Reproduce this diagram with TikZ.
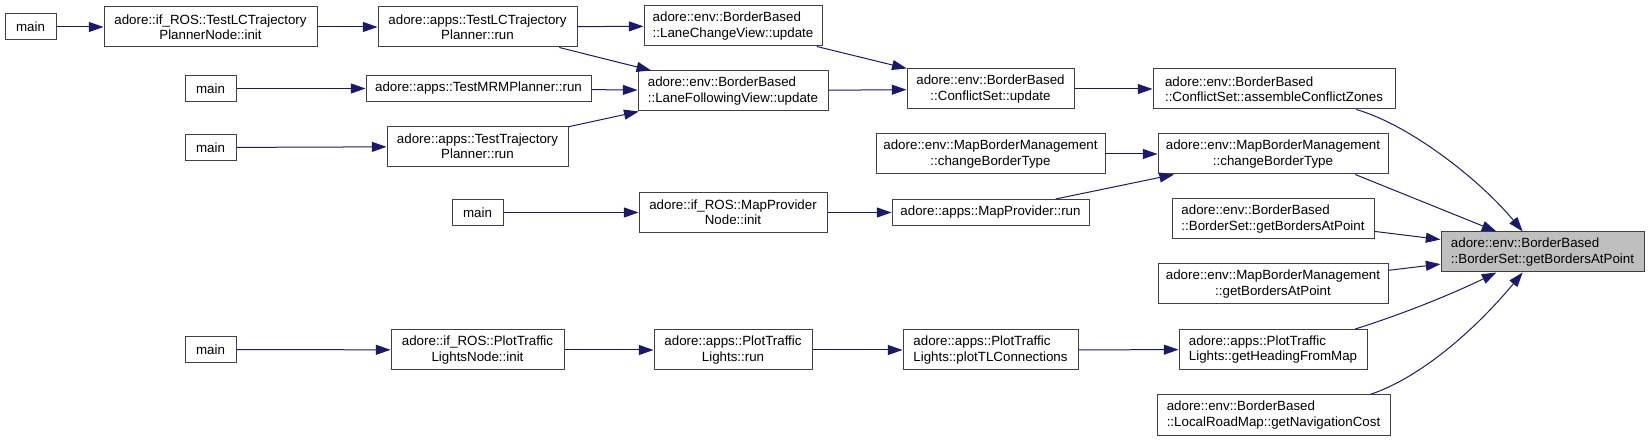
\documentclass[tikz,border=0pt]{standalone}
\usepackage{fontspec}
\setmainfont{Liberation Sans}
\usepackage{tikz}
\usetikzlibrary{arrows.meta}
\definecolor{callblue}{RGB}{25, 25, 112}
\definecolor{boxgrey}{RGB}{64, 64, 64}
\definecolor{focusgrey}{RGB}{191, 191, 191}

\begin{document}
\begin{tikzpicture}[x=0.75pt, y=-0.75pt,
    fn/.style={draw=boxgrey, fill=white, line width=0.75pt, inner sep=0pt,
        minimum height=30pt, align=center, font=\fontsize{10}{11.5}\selectfont},
    fnl/.style={fn, align=left},
    one/.style={minimum height=19.5pt},
    bw/.style={minimum width=#1*0.75pt},
    call/.style={draw=callblue, line width=0.75pt, -{Triangle[length=11pt, width=7.5pt]}}]
    \useasboundingbox (0,0) rectangle (1649,441);

    % Callers (main)
    \node[fn, one, bw=51] (main1) at (30.5,27) {main};
    \node[fn, one, bw=51] (main2) at (210.5,88.5) {main};
    \node[fn, one, bw=51] (main3) at (210.5,147.5) {main};
    \node[fn, one, bw=51] (main4) at (477.5,212.5) {main};
    \node[fn, one, bw=51] (main5) at (210.5,349.5) {main};

    % Test planners
    \node[fn, bw=213] (lcinit) at (210.5,27) {adore::if\_ROS::TestLCTrajectory\\PlannerNode::init};
    \node[fn, bw=199] (lcrun) at (477.5,27) {adore::apps::TestLCTrajectory\\Planner::run};
    \node[fn, one, bw=225] (mrmrun) at (478.5,88.5) {adore::apps::TestMRMPlanner::run};
    \node[fn, bw=181] (ttrun) at (477.5,146.5) {adore::apps::TestTrajectory\\Planner::run};

    % Views and conflict set
    \node[fnl, bw=178] (lcview) at (733,26) {adore::env::BorderBased\\::LaneChangeView::update};
    \node[fnl, bw=190] (lfview) at (733,91) {adore::env::BorderBased\\::LaneFollowingView::update};
    \node[fn, bw=167] (csupdate) at (990.5,89) {adore::env::BorderBased\\::ConflictSet::update};
    \node[fnl, bw=242] (assemble) at (1274,89) {adore::env::BorderBased\\::ConflictSet::assembleConflictZones};

    % Map provider
    \node[fn, bw=188] (mpinit) at (733,212.5) {adore::if\_ROS::MapProvider\\Node::init};
    \node[fn, one, bw=197] (mprun) at (990.5,212.5) {adore::apps::MapProvider::run};
    \node[fn, bw=229] (mbmchange1) at (990.5,154) {adore::env::MapBorderManagement\\::changeBorderType};
    \node[fn, bw=230] (mbmchange2) at (1273,154) {adore::env::MapBorderManagement\\::changeBorderType};

    % Traffic lights
    \node[fn, bw=173] (ptlinit) at (477.5,350) {adore::if\_ROS::PlotTraffic\\LightsNode::init};
    \node[fn, bw=158] (ptlrun) at (733,350) {adore::apps::PlotTraffic\\Lights::run};
    \node[fnl, bw=175] (ptlplot) at (990.5,350) {adore::apps::PlotTraffic\\Lights::plotTLConnections};
    \node[fnl, bw=188] (ptlget) at (1273,349.5) {adore::apps::PlotTraffic\\Lights::getHeadingFromMap};

    % Direct callers of the target
    \node[fnl, bw=202] (bsget) at (1273,219) {adore::env::BorderBased\\::BorderSet::getBordersAtPoint};
    \node[fn, bw=230] (mbmget) at (1273,284) {adore::env::MapBorderManagement\\::getBordersAtPoint};
    \node[fnl, bw=233] (lrmcost) at (1273.5,415) {adore::env::BorderBased\\::LocalRoadMap::getNavigationCost};
    \node[fnl, bw=203, fill=focusgrey] (target) at (1542.5,252) {adore::env::BorderBased\\::BorderSet::getBordersAtPoint};

    % Calls
    \draw[call] (main1) -- (lcinit);
    \draw[call] (lcinit) -- (lcrun);
    \draw[call] (lcrun) -- (lcview);
    \draw[call] (lcrun) -- (lfview);
    \draw[call] (main2) -- (mrmrun);
    \draw[call] (mrmrun) -- (lfview);
    \draw[call] (main3) -- (ttrun);
    \draw[call] (ttrun) -- (lfview);
    \draw[call] (lcview) -- (csupdate);
    \draw[call] (lfview) -- (csupdate);
    \draw[call] (csupdate) -- (assemble);
    \draw[call] (main4) -- (mpinit);
    \draw[call] (mpinit) -- (mprun);
    \draw[call] (mprun) -- (mbmchange2);
    \draw[call] (mbmchange1) -- (mbmchange2);
    \draw[call] (main5) -- (ptlinit);
    \draw[call] (ptlinit) -- (ptlrun);
    \draw[call] (ptlrun) -- (ptlplot);
    \draw[call] (ptlplot) -- (ptlget);

    % Into the target
    \draw[call] (assemble.-14) .. controls (1410,125) and (1480,180) .. (target.134);
    \draw[call] (mbmchange2.-14) -- (target.156);
    \draw[call] (bsget) -- (target);
    \draw[call] (mbmget) -- (target);
    \draw[call] (ptlget.14) .. controls (1400,315) and (1450,295) .. (target.-156);
    \draw[call] (lrmcost.12) .. controls (1420,378) and (1475,330) .. (target.-134);
\end{tikzpicture}
\end{document}
